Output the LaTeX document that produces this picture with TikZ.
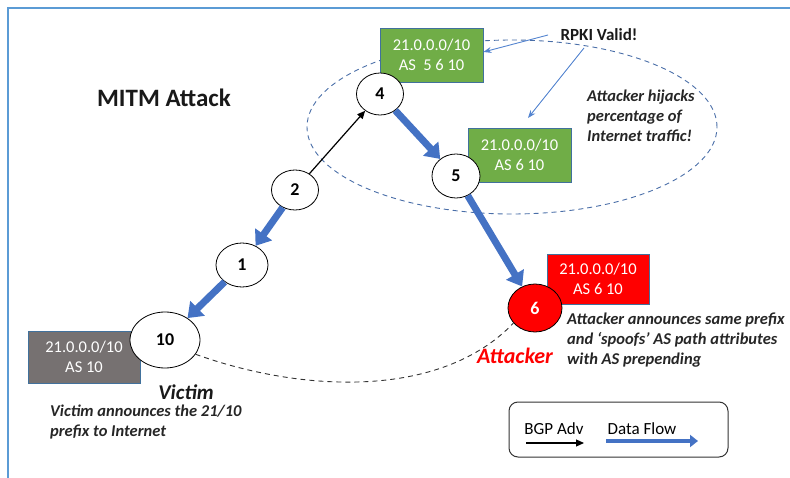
\documentclass[tikz,border=0pt]{standalone}
\usepackage{fontspec}
\setmainfont{Carlito}
\usetikzlibrary{shapes.geometric,arrows.meta}
\definecolor{flow}{HTML}{4472C4}
\definecolor{grn}{HTML}{70AD47}
\definecolor{edgeb}{HTML}{41719C}
\definecolor{framec}{HTML}{5B9BD5}
\definecolor{gry}{HTML}{767171}
\definecolor{ellc}{HTML}{4A6EA8}
\definecolor{thinarr}{HTML}{5585D0}
\begin{document}
\begin{tikzpicture}[x=1pt,y=-1pt,
 asnode/.style={ellipse,draw=black,fill=white,line width=0.8pt,inner sep=0pt,font=\fontsize{18}{18}\selectfont\bfseries},
 prefbox/.style={draw=edgeb,line width=0.8pt,text=white,align=center,font=\fontsize{16.5}{20}\selectfont,inner sep=0pt},
 dataflow/.style={draw=flow,line width=7pt,-{Triangle[length=14pt,width=20pt]}},
 bgp/.style={black,line width=1.2pt,-{Triangle[length=8pt,width=7pt]}},
 note/.style={font=\fontsize{16.5}{20}\selectfont\bfseries\itshape,align=left,inner sep=0pt,anchor=north west,text=black!85},
]
\useasboundingbox (0,0) rectangle (790,478);
\draw[framec,line width=1.5pt] (790,8) -- (8,8) -- (8,478);

% dashed ellipse
\draw[ellc,dashed,line width=0.9pt,dash pattern=on 5pt off 4pt] (512,127) ellipse [x radius=205pt, y radius=87pt];

% prefix boxes
\node[prefbox,fill=grn,minimum width=103pt,minimum height=54pt] (b4) at (431.5,55) {21.0.0.0/10\\AS\ \ 5 6 10};
\node[prefbox,fill=grn,minimum width=103pt,minimum height=54pt] (b5) at (519.5,155) {21.0.0.0/10\\AS 6 10};
\node[prefbox,fill=red,minimum width=102pt,minimum height=50pt] (b6) at (598,279) {21.0.0.0/10\\AS 6 10};
\node[prefbox,fill=gry,minimum width=112pt,minimum height=52pt] (b10) at (84,357) {21.0.0.0/10\\AS 10};

% AS nodes
\node[asnode,minimum width=47pt,minimum height=42pt] (n4) at (380,94) {4};
\node[asnode,minimum width=47pt,minimum height=40pt] (n2) at (295,190) {2};
\node[asnode,minimum width=52pt,minimum height=44pt] (n1) at (242,265) {1};
\node[asnode,minimum width=70pt,minimum height=56pt] (n10) at (165,340) {10};
\node[asnode,minimum width=48pt,minimum height=44pt] (n5) at (456,176) {5};
\node[asnode,fill=red,text=white,minimum width=54pt,minimum height=48pt] (n6) at (535,308) {6};

% connectors
\draw[bgp] (n2) -- (n4);
\draw[dataflow] (n4) -- (n5);
\draw[dataflow] (n5) -- (n6);
\draw[dataflow] (n2) -- (n1);
\draw[dataflow] (n1) -- (n10);
\draw[black!80,dashed,line width=0.9pt,dash pattern=on 5pt off 4pt] (n10.-25) .. controls (300,392) and (440,400) .. (n6.215);

% titles and notes
\node[font=\fontsize{25}{25}\selectfont\bfseries,text=black!90] (title) at (164,98) {MITM Attack};
\node[font=\fontsize{17}{17}\selectfont\bfseries,text=black!90] (rpki) at (599,35) {RPKI Valid!};
\coordinate (r1) at (548,35);
\coordinate (r2) at (584,48);
\draw[thinarr,line width=0.9pt,-{Stealth[length=8pt,width=6pt]}] (r1) -- (b4.east |- 0,52) ;
\draw[thinarr,line width=0.9pt,-{Stealth[length=8pt,width=6pt]}] (r2) -- (528,118);
\node[note] (hij) at (587,90) {Attacker hijacks\\percentage of\\Internet traffic!};

\node[font=\fontsize{21}{21}\selectfont\bfseries\itshape,text=black!90] (victim) at (186,392) {Victim};
\node[note] (vnote) at (50,405) {Victim announces the 21/10\\prefix to Internet};
\node[font=\fontsize{22}{22}\selectfont\bfseries\itshape,text=red] (attacker) at (515,356) {Attacker};
\node[note] (anote) at (567,313) {Attacker announces same prefix\\and ‘spoofs’ AS path attributes\\with AS prepending};

% legend
\draw[black!80,line width=1pt,rounded corners=9pt] (509,402) rectangle (728,457);
\node[font=\fontsize{17}{17}\selectfont] (lbgp) at (554,429) {BGP Adv};
\node[font=\fontsize{17}{17}\selectfont] (lflow) at (642,429) {Data Flow};
\coordinate (la1) at (526,443);
\coordinate (la2) at (584,443);
\coordinate (lf1) at (606,441);
\coordinate (lf2) at (698,441);
\draw[bgp] (la1) -- (la2);
\draw[draw=flow,line width=4.5pt,-{Triangle[length=8pt,width=12pt]}] (lf1) -- (lf2);
\end{tikzpicture}
\end{document}
